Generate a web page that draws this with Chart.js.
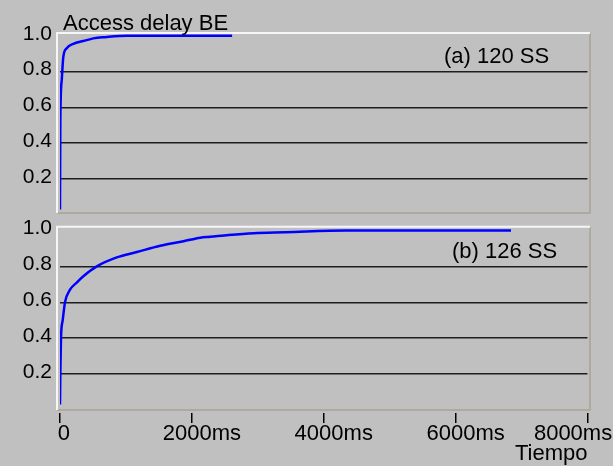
<!DOCTYPE html>
<html>
<head>
<meta charset="utf-8">
<script src="https://cdn.jsdelivr.net/npm/chart.js@4.4.0/dist/chart.umd.min.js"></script>
<style>
  html, body { margin: 0; padding: 0; background: #c0c0c0; }
  #wrap { position: relative; width: 613px; height: 466px; overflow: hidden; }
  canvas { position: absolute; left: 0; }
</style>
</head>
<body>
<div id="wrap">
  <canvas id="chartA" width="613" height="220" style="top:0"></canvas>
  <canvas id="chartB" width="613" height="246" style="top:220px"></canvas>
</div>
<script>
const FONT = "'Liberation Sans', Arial, sans-serif";

// access delay CDF, delay in ms
const delay120 = [0, 5, 26, 50, 102, 202, 354, 506, 684, 1014, 2610];
const cdf120 = [0.03, 0.52, 0.75, 0.88, 0.93, 0.955, 0.97, 0.985, 0.992, 1.0, 1.0];

const delay126 = [0, 5, 15, 41, 76, 152, 254, 354, 558, 862, 1166, 1520, 1874, 2128, 2280, 2558, 2938, 3420, 4332, 6840];
const cdf126 = [0.03, 0.2, 0.4, 0.5, 0.6, 0.67, 0.71, 0.745, 0.8, 0.85, 0.88, 0.915, 0.94, 0.96, 0.965, 0.975, 0.985, 0.99, 1.0, 1.0];

const yTicks = [0.2, 0.4, 0.6, 0.8, 1.0];
const xTicks = [0, 2000, 4000, 6000, 8000];
const xTickLabels = ['0', '2000ms', '4000ms', '6000ms', '8000ms'];

// trailing spaces pull the first and last label left, like the original
const labelTrail = { 0: '  ', 8000: '        ' };

const panelPlugin = {
    id: 'panel',
    beforeDraw(chart) {
        const a = chart.chartArea;
        const ctx = chart.ctx;
        const l = a.left - 3, r = a.right + 2.5, t = a.top, b = a.bottom - 3;
        ctx.save();
        ctx.lineWidth = 1.5;
        ctx.strokeStyle = '#a8a294';
        ctx.beginPath();
        ctx.moveTo(r, t); ctx.lineTo(r, b); ctx.lineTo(l, b);
        ctx.stroke();
        ctx.lineWidth = 2;
        ctx.strokeStyle = '#f6f6f6';
        ctx.beginPath();
        ctx.moveTo(l, b); ctx.lineTo(l, t); ctx.lineTo(r, t);
        ctx.stroke();
        ctx.restore();
    },
    afterDraw(chart, args, opts) {
        const ctx = chart.ctx;
        ctx.save();
        ctx.fillStyle = '#000';
        ctx.font = '22px ' + FONT;
        ctx.textBaseline = 'alphabetic';
        (opts.items || []).forEach(it => ctx.fillText(it.text, it.x, it.y));
        ctx.restore();
    }
};

function yScale(min, max) {
    return {
        min: min,
        max: max,
        afterBuildTicks: s => { s.ticks = yTicks.map(v => ({ value: v })); },
        afterFit: s => { s.width = 60; s.paddingTop = 0; s.paddingBottom = 0; },
        border: { display: false },
        grid: {
            drawTicks: false,
            color: c => (c.tick && c.tick.value < 0.9 ? '#1e1e1e' : 'rgba(0,0,0,0)'),
            lineWidth: 1.5
        },
        ticks: {
            padding: 8,
            labelOffset: -2,
            color: '#000',
            font: { family: FONT, size: 21, lineHeight: 1 },
            callback: v => v.toFixed(1)
        }
    };
}

function lineData(xs, ys) {
    return {
        datasets: [{
            data: xs.map((x, i) => ({ x: x, y: ys[i] })),
            borderColor: '#0000ff',
            borderWidth: 2.5,
            pointRadius: 0,
            cubicInterpolationMode: 'monotone',
            fill: false
        }]
    };
}

new Chart(document.getElementById('chartA'), {
    type: 'line',
    data: lineData(delay120, cdf120),
    plugins: [panelPlugin],
    options: {
        responsive: false,
        animation: false,
        devicePixelRatio: 1,
        layout: { padding: { top: 33, right: 25.5, bottom: 4, left: 0 } },
        scales: {
            x: { type: 'linear', min: 0, max: 8000, display: false },
            y: yScale(-0.0067, 1.0151)
        },
        plugins: {
            legend: { display: false },
            tooltip: { enabled: false },
            panel: {
                items: [
                    { text: 'Access delay BE', x: 63, y: 30 },
                    { text: '(a) 120 SS', x: 444, y: 63 }
                ]
            }
        }
    }
});

new Chart(document.getElementById('chartB'), {
    type: 'line',
    data: lineData(delay126, cdf126),
    plugins: [panelPlugin],
    options: {
        responsive: false,
        animation: false,
        devicePixelRatio: 1,
        layout: { padding: { top: 6.7, right: 25.5, bottom: 0, left: 0 } },
        scales: {
            x: {
                type: 'linear',
                min: 0,
                max: 8000,
                afterBuildTicks: s => { s.ticks = xTicks.map(v => ({ value: v })); },
                afterFit: s => { s.height = 53; s.paddingLeft = 0; s.paddingRight = 0; },
                border: { display: false },
                grid: { drawOnChartArea: false, drawTicks: true, tickLength: 10, color: '#000', lineWidth: 1.5 },
                ticks: {
                    autoSkip: false,
                    maxRotation: 0,
                    minRotation: 0,
                    padding: 0,
                    labelOffset: 10,
                    color: '#000',
                    font: { family: FONT, size: 22, lineHeight: 1 },
                    callback: v => xTickLabels[xTicks.indexOf(v)] + (labelTrail[v] || '')
                },
                title: {
                    display: true,
                    text: 'Tiempo',
                    align: 'end',
                    padding: { top: 0, bottom: 1 },
                    color: '#000',
                    font: { family: FONT, size: 22, lineHeight: 1 }
                }
            },
            y: yScale(-0.0173, 1.0212)
        },
        plugins: {
            legend: { display: false },
            tooltip: { enabled: false },
            panel: {
                items: [
                    { text: '(b) 126 SS', x: 452, y: 37.5 }
                ]
            }
        }
    }
});
</script>
</body>
</html>
